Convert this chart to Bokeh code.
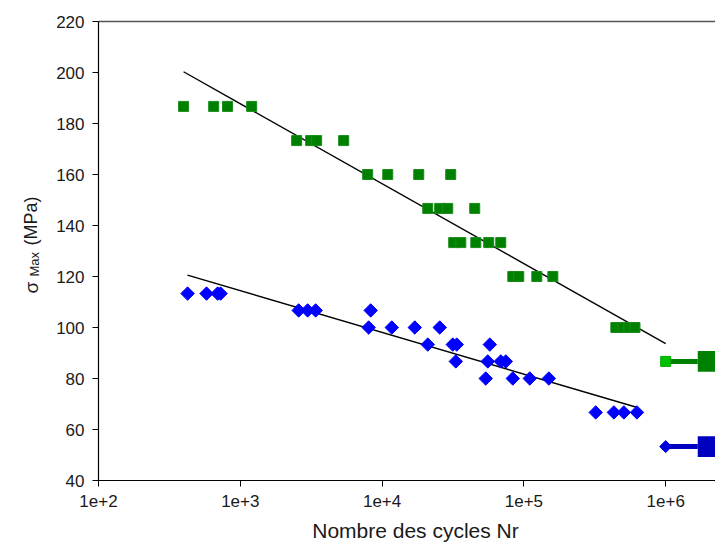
import numpy as np
from bokeh.plotting import figure
from bokeh.models import (Range1d, FixedTicker, CustomJSTickFormatter, LogAxis)
from bokeh.core.properties import value
from bokeh.embed import file_html
from bokeh.resources import INLINE

# ---- data ----
green_N = [398, 649, 813, 1203,
           2497, 3136, 3454, 5358,
           7910, 10960, 18130, 30480,
           20990, 25480, 29040, 45000,
           32000, 35900, 45800, 56500, 68700,
           83500, 92000, 123300, 160000,
           445000, 499000, 550000, 607000]
green_S = [186.7] * 4 + [173.3] * 4 + [160.0] * 4 + [146.7] * 4 + [133.3] * 5 + [120.0] * 4 + [100.0] * 4

blue_N = [425, 578, 692, 726,
          2580, 2985, 3400, 8310,
          8040, 11700, 17000, 25500,
          21000, 31500, 33600, 57500,
          33100, 55600, 68700, 74500,
          53800, 83500, 110000, 150000,
          321000, 431000, 507000, 627000]
blue_S = [113.3] * 4 + [106.7] * 4 + [100.0] * 4 + [93.3] * 4 + [86.7] * 4 + [80.0] * 4 + [66.7] * 4

# runouts (non-broken specimens)
runout_N = [1e6]
green_runout_S = [86.7]
blue_runout_S = [53.3]

# linear fits sigma = a + b*log10(N), valid on [Nmin, Nmax]
green_fit = dict(a=281.8, b=-31.35, Nmin=398, Nmax=1e6)
blue_fit = dict(a=163.5, b=-16.36, Nmin=424, Nmax=6.22e5)

x_ticks = [1e2, 1e3, 1e4, 1e5, 1e6]
y_ticks = [40, 60, 80, 100, 120, 140, 160, 180, 200, 220]
N_MIN = 1e2
S_MIN, S_MAX = 40, 220

FONT = "Liberation Sans"
W, H = 715, 545
# layout (pixels from the figure's top-left corner)
AXIS_X_PX = 98          # y axis (N = 1e2)
TOP_PX, BOTTOM_PX = 21, 480   # S = 220 and S = 40
PX_PER_DECADE = 141.8
PX_PER_MPA = (BOTTOM_PX - TOP_PX) / (S_MAX - S_MIN)


def n_at_px(px):
    return 10 ** (np.log10(N_MIN) + (px - AXIS_X_PX) / PX_PER_DECADE)


def s_at_px(py):
    return S_MIN + (BOTTOM_PX - py) / PX_PER_MPA


x_end = n_at_px(W)
p = figure(width=W, height=H, x_axis_type="log",
           x_range=Range1d(n_at_px(0), x_end), y_range=Range1d(s_at_px(H), s_at_px(0)),
           output_backend="svg", toolbar_location=None,
           min_border_left=0, min_border_right=0, min_border_top=0, min_border_bottom=0)
p.xgrid.visible = False
p.ygrid.visible = False
p.outline_line_color = None

xa, ya = p.xaxis[0], p.yaxis[0]
xa.ticker = FixedTicker(ticks=x_ticks, minor_ticks=[])
xa.formatter = CustomJSTickFormatter(code="return '1e+' + Math.round(Math.log10(tick));")
xa.bounds = (N_MIN, x_end)
xa.fixed_location = S_MIN
ya.ticker = FixedTicker(ticks=y_ticks, minor_ticks=[])
ya.fixed_location = N_MIN
ya.bounds = (S_MIN, S_MAX)
for ax in (xa, ya):
    ax.axis_line_color = "black"
    ax.axis_line_width = 1.2
    ax.major_tick_line_color = "black"
    ax.major_tick_out = 6
    ax.major_tick_in = 0
    ax.minor_tick_line_color = None
    ax.major_label_text_font = FONT
    ax.major_label_text_font_size = "17px"
    ax.major_label_text_color = "#1a1a1a"
xa.major_label_standoff = 8
ya.major_label_standoff = 8

top_axis = LogAxis(ticker=FixedTicker(ticks=[], minor_ticks=[]), bounds=(N_MIN, x_end),
                   fixed_location=S_MAX,
                   axis_line_color="#555555", axis_line_width=1.5,
                   major_tick_line_color=None, minor_tick_line_color=None,
                   major_label_text_font_size="0px")
p.add_layout(top_axis, "above")

# ---- fit lines ----
for fit in (green_fit, blue_fit):
    xs = np.array([fit["Nmin"], fit["Nmax"]], dtype=float)
    ys = fit["a"] + fit["b"] * np.log10(xs)
    p.line(xs, ys, line_color="black", line_width=1.4)

# ---- runout arrows ----
arrow_len = 10 ** 0.226      # shaft length factor (style)
head_half = 4.1               # head half height in MPa (style)
for S, lc, hc in ((green_runout_S, "#008000", "#008000"),
                  (blue_runout_S, "#0000c0", "#0000c0")):
    for n, s in zip(runout_N, S):
        p.line([n, n * arrow_len], [s, s], line_color=lc, line_width=5)
        p.quad(left=[n * arrow_len], right=[n * 3], bottom=[s - head_half], top=[s + head_half],
               fill_color=hc, line_color=None)

# ---- data points ----
p.scatter(green_N, green_S, marker="square", size=10, fill_color="#008000",
          line_color="#1a8c1a", line_width=1)
p.scatter(blue_N, blue_S, marker="square", angle=np.pi / 4, size=9.5,
          fill_color="#0000ff", line_color="#0000ff", line_width=1)
p.scatter(runout_N, green_runout_S, marker="square", size=10, fill_color="#00c000",
          line_color="#00a800", line_width=1)
p.scatter(runout_N, blue_runout_S, marker="square", angle=np.pi / 4, size=8.5,
          fill_color="#0000dd", line_color="#0000dd", line_width=1)

# ---- axis titles ----
txt_kw = dict(text_font=value(FONT), text_color="#1a1a1a")
rot_kw = dict(angle=np.pi / 2, text_align="left", text_baseline="alphabetic", **txt_kw)
p.text(x=[n_at_px(30.5)], y=[s_at_px(293)], text=["σ"], text_font_size="19px", **rot_kw)
p.text(x=[n_at_px(33.5)], y=[s_at_px(276)], text=["Max"], text_font_size="13px", **rot_kw)
p.text(x=[n_at_px(30.5)], y=[s_at_px(245)], text=["(MPa)"], text_font_size="18px", **rot_kw)
p.text(x=[n_at_px(415)], y=[s_at_px(541)], text=["Nombre des cycles Nr"],
       text_font_size="21px", text_align="center", text_baseline="bottom", **txt_kw)

open("out.html", "w").write(file_html(p, INLINE))
